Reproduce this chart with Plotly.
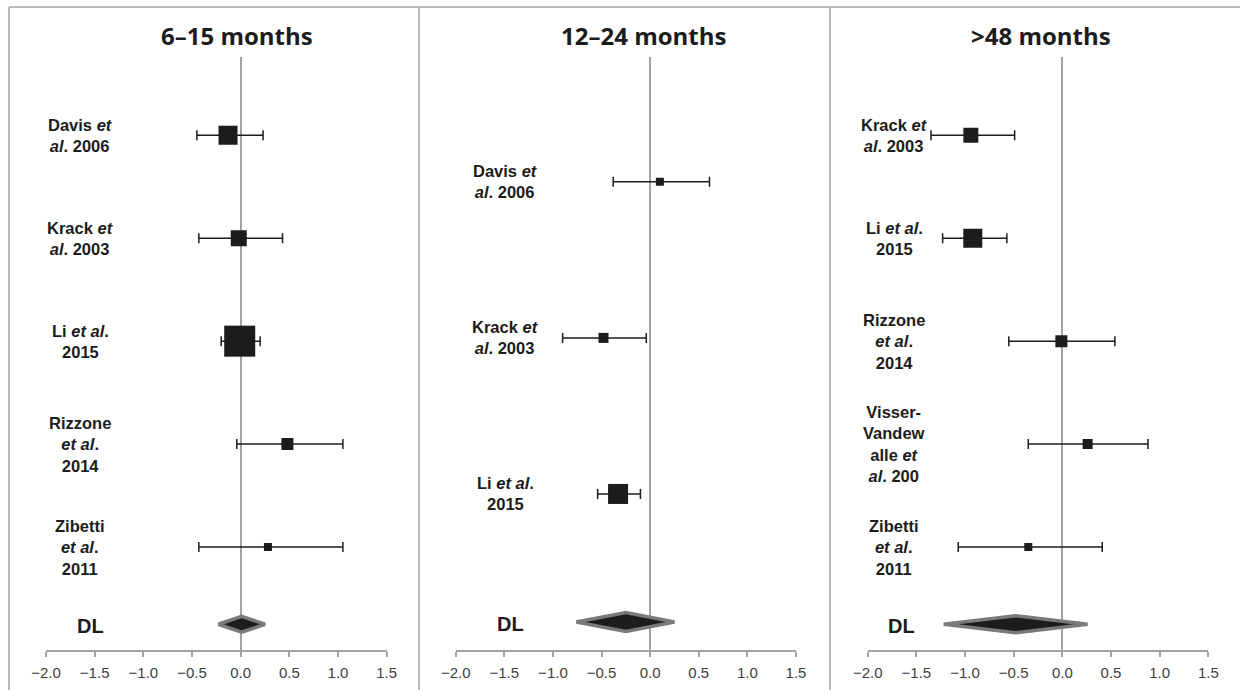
import plotly.graph_objects as go

W, H = 1240, 690

# ---------------- data ----------------
panel_titles = ["6–15 months", "12–24 months", ">48 months"]

p1_labels = ["Davis <i>et</i><br><i>al</i>. 2006",
             "Krack <i>et</i><br><i>al</i>. 2003",
             "Li <i>et al</i>.<br>2015",
             "Rizzone<br><i>et al</i>.<br>2014",
             "Zibetti<br><i>et al</i>.<br>2011"]
p1_est = [-0.13, -0.02, -0.01, 0.48, 0.28]
p1_lo = [-0.45, -0.43, -0.20, -0.04, -0.43]
p1_hi = [0.23, 0.43, 0.20, 1.05, 1.05]
p1_pooled = [-0.23, 0.01, 0.25]   # lower, estimate, upper

p2_labels = ["Davis <i>et</i><br><i>al</i>. 2006",
             "Krack <i>et</i><br><i>al</i>. 2003",
             "Li <i>et al</i>.<br>2015"]
p2_est = [0.10, -0.48, -0.33]
p2_lo = [-0.38, -0.90, -0.54]
p2_hi = [0.61, -0.04, -0.10]
p2_pooled = [-0.76, -0.25, 0.25]

p3_labels = ["Krack <i>et</i><br><i>al</i>. 2003",
             "Li <i>et al</i>.<br>2015",
             "Rizzone<br><i>et al</i>.<br>2014",
             "Visser-<br>Vandew<br>alle <i>et</i><br><i>al</i>. 200",
             "Zibetti<br><i>et al</i>.<br>2011"]
p3_est = [-0.94, -0.92, -0.01, 0.26, -0.35]
p3_lo = [-1.35, -1.23, -0.55, -0.35, -1.07]
p3_hi = [-0.49, -0.57, 0.54, 0.88, 0.41]
p3_pooled = [-1.22, -0.48, 0.26]

pooled_label = "DL"
x_range = [-2.0, 1.5]

# ---------------- styling / layout ----------------
INK = "#1c1c1c"
GREY = "#a3a3a3"
LABEL_FONT = dict(family="Liberation Sans, Arial, sans-serif", size=16.5, color=INK)

panels = [
    dict(labels=p1_labels, est=p1_est, lo=p1_lo, hi=p1_hi, pooled=p1_pooled,
         box_px=[19, 16, 31, 12, 8], x_px=(46, 386.7), ytop=5.76, dl_y=0.25,
         diamond_half_px=8, label_cx=80, dl_cx=90, title_cx=237),
    dict(labels=p2_labels, est=p2_est, lo=p2_lo, hi=p2_hi, pooled=p2_pooled,
         box_px=[8, 10, 20], x_px=(455.7, 796), ytop=3.8, dl_y=0.18,
         diamond_half_px=9.5, label_cx=505, dl_cx=510, title_cx=644),
    dict(labels=p3_labels, est=p3_est, lo=p3_lo, hi=p3_hi, pooled=p3_pooled,
         box_px=[15, 19, 12, 10, 8], x_px=(867.7, 1208.3), ytop=5.76, dl_y=0.25,
         diamond_half_px=8.5, label_cx=894, dl_cx=901, title_cx=1041),
]

PLOT_TOP_PX, PLOT_BOTTOM_PX = 57, 650


def px_x(p):
    return p / W


def px_y(p):
    return 1 - p / H


fig = go.Figure()
layout = dict(
    width=W, height=H,
    margin=dict(l=0, r=0, t=0, b=0, autoexpand=False),
    paper_bgcolor="white", plot_bgcolor="white",
    showlegend=False,
)
annotations = []

for k, pnl in enumerate(panels, start=1):
    sfx = "" if k == 1 else str(k)
    xa, ya = "x" + sfx, "y" + sfx
    n = len(pnl["est"])
    rows = [n - i for i in range(n)]

    # study estimates with confidence intervals
    fig.add_trace(go.Scatter(
        x=pnl["est"], y=rows, xaxis=xa, yaxis=ya, mode="markers",
        marker=dict(symbol="square", size=pnl["box_px"], color=INK,
                    opacity=1, line=dict(width=0)),
        error_x=dict(type="data", symmetric=False,
                     array=[h - e for h, e in zip(pnl["hi"], pnl["est"])],
                     arrayminus=[e - l for e, l in zip(pnl["est"], pnl["lo"])],
                     color=INK, thickness=1.5, width=5),
        hoverinfo="skip",
    ))

    # pooled (DerSimonian-Laird) diamond
    lo, est, hi = pnl["pooled"]
    units_per_px = pnl["ytop"] / (PLOT_BOTTOM_PX - PLOT_TOP_PX)
    h = pnl["diamond_half_px"] * units_per_px
    dy = pnl["dl_y"]
    fig.add_trace(go.Scatter(
        x=[lo, est, hi, est, lo], y=[dy, dy + h, dy, dy - h, dy],
        xaxis=xa, yaxis=ya, mode="lines", fill="toself",
        fillcolor=INK, line=dict(color="#7a7a7a", width=3.5),
        hoverinfo="skip",
    ))

    layout["xaxis" + sfx] = dict(
        domain=[px_x(pnl["x_px"][0]), px_x(pnl["x_px"][1])],
        anchor=ya, range=x_range, tick0=-2.0, dtick=0.5, tickformat=".1f",
        showgrid=False, showline=True, linecolor=GREY, linewidth=1.5,
        ticks="outside", ticklen=5, tickwidth=1.5, tickcolor=GREY,
        ticklabelstandoff=3,
        tickfont=dict(family="Liberation Sans, Arial, sans-serif", size=15, color="#404040"),
        zeroline=True, zerolinecolor=GREY, zerolinewidth=1.5,
        automargin=False, fixedrange=True,
    )
    layout["yaxis" + sfx] = dict(
        domain=[px_y(PLOT_BOTTOM_PX), px_y(PLOT_TOP_PX)],
        anchor=xa, range=[0, pnl["ytop"]],
        showgrid=False, zeroline=False, showline=False,
        showticklabels=False, ticks="", automargin=False, fixedrange=True,
    )

    # study labels
    for r, lab in zip(rows, pnl["labels"]):
        annotations.append(dict(
            text=f"<b>{lab}</b>", xref="paper", yref=ya,
            x=px_x(pnl["label_cx"]), y=r, xanchor="center", yanchor="middle",
            align="center", showarrow=False, font=LABEL_FONT,
        ))
    annotations.append(dict(
        text=f"<b>{pooled_label}</b>", xref="paper", yref=ya,
        x=px_x(pnl["dl_cx"]), y=dy, xanchor="center", yanchor="middle",
        showarrow=False, yshift=-2,
        font=dict(family="Liberation Sans, Arial, sans-serif", size=20, color=INK),
    ))
    # panel title
    annotations.append(dict(
        text=f"<b>{panel_titles[k - 1]}</b>", xref="paper", yref="paper",
        x=px_x(pnl["title_cx"]), y=px_y(35), xanchor="center", yanchor="middle",
        showarrow=False,
        font=dict(family="Open Sans, sans-serif", size=24, color=INK),
    ))

layout["annotations"] = annotations

# panel frames
frame = dict(type="line", xref="paper", yref="paper",
             line=dict(color=GREY, width=1.5), layer="below")
shapes = [
    dict(frame, x0=px_x(9), x1=1, y0=px_y(7), y1=px_y(7)),
    dict(frame, x0=px_x(9), x1=px_x(9), y0=px_y(7), y1=0),
    dict(frame, x0=px_x(419), x1=px_x(419), y0=px_y(7), y1=0),
    dict(frame, x0=px_x(830), x1=px_x(830), y0=px_y(7), y1=0),
]
layout["shapes"] = shapes

fig.update_layout(**layout)
fig.write_html("out.html")
